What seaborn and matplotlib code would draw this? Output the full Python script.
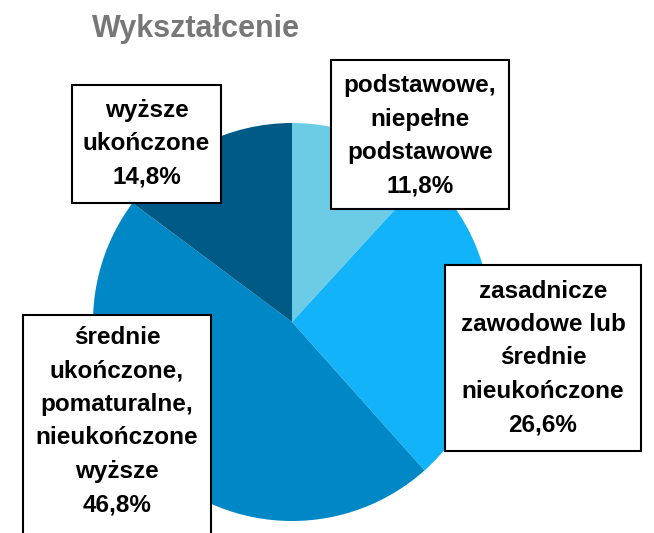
import matplotlib
matplotlib.use("Agg")
import matplotlib.pyplot as plt
from matplotlib.patches import Rectangle
import seaborn as sns

sns.set_theme(style="white")
plt.rcParams["font.family"] = ["Liberation Sans", "DejaVu Sans"]

# data
categories = ["podstawowe,\nniepełne\npodstawowe",
              "zasadnicze\nzawodowe lub\nśrednie\nnieukończone",
              "średnie\nukończone,\npomaturalne,\nnieukończone\nwyższe",
              "wyższe\nukończone"]
shares = [11.8, 26.6, 46.8, 14.8]
colors = ["#6ccce6", "#12b3f9", "#0088c6", "#005a86"]
title = "Wykształcenie"

# label boxes in pixel space (left, top, right, bottom), y from top
W, H = 654, 533
boxes = [(331, 60, 509, 209), (445, 265, 641, 451),
         (23, 315, 211, 545), (72, 85, 221, 203)]
text_cy = [136, 358, 421, 144]

fig = plt.figure(figsize=(W / 100, H / 100), dpi=100)
ax = fig.add_axes([0, 0, 1, 1])
ax.pie(shares, colors=colors, startangle=90, counterclock=False,
       center=(292, H - 322), radius=199,
       wedgeprops=dict(linewidth=0))
ax.set_xlim(0, W)
ax.set_ylim(0, H)
ax.set_aspect("equal")
ax.axis("off")

for cat, val, (x0, y0, x1, y1), cy in zip(categories, shares, boxes, text_cy):
    ax.add_patch(Rectangle((x0, H - y1), x1 - x0, y1 - y0, facecolor="white",
                           edgecolor="black", linewidth=1.5, zorder=3))
    label = cat + "\n" + f"{val:.1f}%".replace(".", ",")
    ax.text((x0 + x1) / 2, H - cy, label, ha="center", va="center",
            fontsize=17.5, fontweight="bold", linespacing=1.58, zorder=4,
            color="black")

ax.text(196, H - 37, title, ha="center", va="baseline", fontsize=22,
        fontweight="bold", color="#777777")

fig.savefig("out.png", dpi=100)
